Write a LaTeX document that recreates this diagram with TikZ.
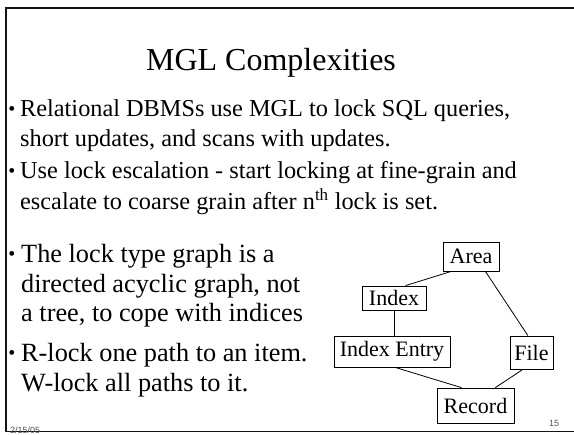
\documentclass[tikz,border=0pt]{standalone}
\usepackage{fontspec}
\setmainfont{Liberation Serif}
\newfontfamily\footfont{Liberation Sans}
\usetikzlibrary{positioning}
\definecolor{framecolor}{RGB}{20, 20, 20}
\definecolor{textcolor}{RGB}{0, 0, 0}
\definecolor{footcolor}{RGB}{80, 80, 80}
\tikzset{
titletext/.style={
  font=\fontsize{32}{36}\selectfont,
  text=textcolor,
  anchor=base,
  inner sep=0pt
},
bodytext/.style={
  font=\fontsize{24.3}{28}\selectfont,
  text=textcolor,
  anchor=base west,
  inner sep=0pt
},
bigtext/.style={
  font=\fontsize{26.3}{30}\selectfont,
  text=textcolor,
  anchor=base west,
  inner sep=0pt
},
bulletmark/.style={
  font=\fontsize{20}{22}\selectfont,
  anchor=center,
  inner sep=0pt
},
footnote/.style={
  font=\footfont\fontsize{9}{10}\selectfont,
  text=footcolor,
  anchor=base west,
  inner sep=0pt
},
lockbox/.style={
  draw=black,
  line width=0.8pt,
  font=\fontsize{22}{24}\selectfont,
  inner sep=0pt,
  align=center
},
link/.style={
  draw=black,
  line width=0.8pt
}
}

\begin{document}
\begin{tikzpicture}[x=1pt, y=-1pt]
\useasboundingbox (0,0) rectangle (574,435);

% ============================================================================
% MOLDURA DO SLIDE
% ============================================================================
\draw[framecolor, line width=2.2pt] (6,432) -- (6,8) -- (574,8);
\draw[framecolor, line width=1pt] (6,432) -- (574,432);

% ============================================================================
% TITULO E TOPICOS
% ============================================================================
\node[titletext] (title) at (271,71) {MGL Complexities};

\node[bulletmark] (b1) at (12,111) {\textbullet};
\node[bodytext] (l1) at (20,117) {Relational DBMSs use MGL to lock SQL queries,};
\node[bodytext] (l2) at (20,147) {short updates, and scans with updates.};
\node[bulletmark] (b2) at (12,173) {\textbullet};
\node[bodytext] (l3) at (20,179) {Use lock escalation - start locking at fine-grain and};
\node[bodytext] (l4) at (20,210) {escalate to coarse grain after n\textsuperscript{th} lock is set.};

\node[bulletmark] (b3) at (12,256) {\textbullet};
\node[bigtext] (l5) at (21,263) {The lock type graph is a};
\node[bigtext] (l6) at (21,293) {directed acyclic graph, not};
\node[bigtext] (l7) at (21,322) {a tree, to cope with indices};
\node[bulletmark] (b4) at (12,355) {\textbullet};
\node[bigtext] (l8) at (21,362) {R-lock one path to an item.};
\node[bigtext] (l9) at (21,392) {W-lock all paths to it.};

% ============================================================================
% GRAFO DE TIPOS DE LOCK
% ============================================================================
\node[lockbox, minimum width=56pt, minimum height=29pt] (area) at (471,256.5) {Area};
\node[lockbox, minimum width=64pt, minimum height=24pt] (index) at (394,298) {Index};
\node[lockbox, minimum width=116pt, minimum height=31pt] (ientry) at (392,351.5) {Index Entry};
\node[lockbox, minimum width=43pt, minimum height=33pt] (file) at (531.5,352.5) {File};
\node[lockbox, minimum width=77pt, minimum height=35pt] (record) at (475.5,405.5) {Record};

\draw[link] (area.217) -- (index.47);
\draw[link] (area.314) -- (file.102);
\draw[link] (index.south) -- (index.south |- ientry.north);
\draw[link] (ientry.281) -- (record.128);
\draw[link] (file.243) -- (record.42);

% ============================================================================
% RODAPE
% ============================================================================
\node[footnote] (date) at (10,434) {2/15/05};
\node[footnote] (page) at (549,427) {15};

\end{tikzpicture}
\end{document}
